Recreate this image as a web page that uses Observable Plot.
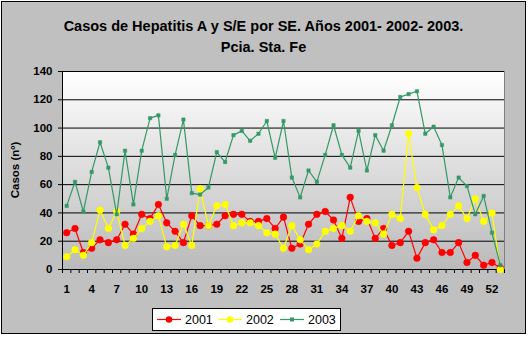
<!DOCTYPE html>
<html>
<head>
<meta charset="utf-8">
<script src="https://cdn.jsdelivr.net/npm/d3@7"></script>
<script src="https://cdn.jsdelivr.net/npm/@observablehq/plot@0.6"></script>
<style>
  html, body { margin: 0; padding: 0; background: #ffffff; }
  body { width: 529px; height: 340px; position: relative; overflow: hidden;
         font-family: Arial, "Liberation Sans", sans-serif; color: #000; }
  #frame { position: absolute; left: 1px; top: 1px; width: 525px; height: 333px;
           box-sizing: border-box; border: 1px solid #000; background: #c0c0c0; }
  .title { position: absolute; left: 0; width: 527px; text-align: center;
           font-weight: bold; font-size: 14.5px; white-space: nowrap; }
  #ylabel { position: absolute; left: 15px; top: 170px; font-weight: bold; font-size: 11.5px;
            transform: translate(-50%, -50%) rotate(-90deg); white-space: nowrap; }
  #plot { position: absolute; left: 0; top: 60px; }
  #legend { position: absolute; left: 152px; top: 308px; width: 189px; height: 23px;
            box-sizing: border-box; border: 1px solid #000; background: #fff; }
  .item { position: absolute; top: 0; height: 21px; display: flex; align-items: center; font-size: 12.5px; }
  .item svg { margin-right: 4px; }
</style>
</head>
<body>
<div id="frame"></div>
<div class="title" style="top:18px;">Casos de Hepatitis A y S/E por SE. Años 2001- 2002- 2003.</div>
<div class="title" style="top:39px;">Pcia. Sta. Fe</div>
<div id="ylabel">Casos (nº)</div>
<div id="plot"></div>
<div id="legend"></div>
<script>
// ---- data ----
const weeks = d3.range(1, 54); // epidemiological weeks 1..53
const cases2001 = [26,29,12,15,21,19,21,32,25,39,36,46,33,27,19,38,31,31,32,38,39,39,34,34,36,29,37,15,18,32,39,41,35,22,51,34,36,22,29,17,19,27,8,19,21,12,12,19,5,10,3,5,1];
const cases2002 = [9,14,10,19,42,29,41,17,22,29,34,38,16,17,32,17,57,31,45,46,31,33,33,31,26,25,15,31,21,14,18,27,29,31,27,38,34,33,25,39,36,96,58,39,28,31,39,45,36,50,34,40,0];
const cases2003 = [45,62,41,69,90,72,39,84,46,84,107,109,50,81,106,54,53,58,83,76,95,98,91,96,105,79,105,65,51,70,62,81,102,81,72,98,70,95,84,102,122,124,126,96,101,88,51,65,59,39,52,26,3];
const seriesNames = ["2001", "2002", "2003"];
const seriesColors = ["#ff0000", "#ffff00", "#339966"];
const yTicks = [0, 20, 40, 60, 80, 100, 120, 140];
const xLabelWeeks = [1, 4, 7, 10, 13, 16, 19, 22, 25, 28, 31, 34, 37, 40, 43, 46, 49, 52];

const allSeries = [cases2001, cases2002, cases2003];
const rows = allSeries.map((vals, i) => weeks.map((w, j) => ({week: w, cases: vals[j], year: seriesNames[i]})));
const xMin = weeks[0] - 0.5, xMax = weeks[weeks.length - 1] + 0.5;
const boundaries = weeks.map(w => w - 0.5).concat([xMax]);

const seriesMarks = rows.flatMap((data, i) => {
  const c = seriesColors[i];
  const dot = i === 2
    ? Plot.dot(data, {x: "week", y: "cases", symbol: "square", r: 1.9, fill: c, stroke: c, strokeWidth: 0.5})
    : Plot.dot(data, {x: "week", y: "cases", r: 3.3, fill: c, stroke: c, strokeWidth: 0.6});
  return [
    Plot.line(data, {x: "week", y: "cases", stroke: c, strokeWidth: 1.2}),
    dot
  ];
});

const chart = Plot.plot({
  width: 529,
  height: 240,
  marginTop: 11,
  marginBottom: 31,
  marginLeft: 62,
  marginRight: 25,
  style: {background: "transparent", fontFamily: "Arial, 'Liberation Sans', sans-serif", fontSize: "11.5px", fontWeight: "bold", color: "#000", overflow: "visible"},
  x: {domain: [xMin, xMax]},
  y: {domain: [0, 140]},
  marks: [
    Plot.frame({fill: "url(#plotbg)", stroke: "#808080"}),
    Plot.gridY(yTicks, {stroke: "#000", strokeOpacity: 1, strokeWidth: 1}),
    Plot.ruleX([xMin], {stroke: "#000"}),
    Plot.axisY(yTicks, {tickSize: 4, tickPadding: 6, label: null, stroke: "#000"}),
    Plot.axisX(boundaries, {tickSize: 4, tickFormat: () => "", label: null, stroke: "#000"}),
    Plot.axisX(xLabelWeeks, {tickSize: 0, tickPadding: 15, label: null, tickFormat: d => String(d)}),
    ...seriesMarks
  ]
});

const ns = "http://www.w3.org/2000/svg";
const defs = document.createElementNS(ns, "defs");
defs.innerHTML = '<linearGradient id="plotbg" x1="0" y1="0" x2="0" y2="1">' +
  '<stop offset="0" stop-color="#ffffff"/><stop offset="1" stop-color="#bababa"/></linearGradient>';
chart.insertBefore(defs, chart.firstChild);
document.getElementById("plot").appendChild(chart);

// ---- legend ----
const legend = document.getElementById("legend");
const itemLefts = [4, 65, 127];
seriesNames.forEach((name, i) => {
  const c = seriesColors[i];
  const item = document.createElement("div");
  item.className = "item";
  item.style.left = itemLefts[i] + "px";
  const marker = i === 2
    ? `<rect x="10" y="8.5" width="4" height="4" fill="${c}"/>`
    : `<circle cx="12" cy="10.5" r="3.2" fill="${c}"/>`;
  item.innerHTML = `<svg width="24" height="21"><line x1="0" x2="24" y1="10.5" y2="10.5" stroke="${c}" stroke-width="1.2"/>${marker}</svg><span>${name}</span>`;
  legend.appendChild(item);
});
</script>
</body>
</html>
